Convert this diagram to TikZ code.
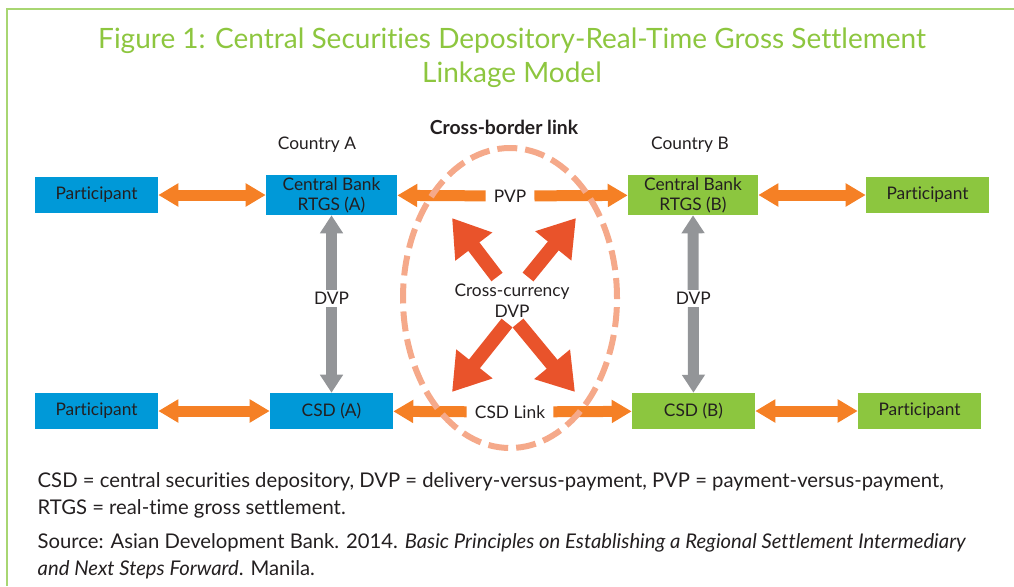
\documentclass[tikz,border=0pt]{standalone}
\usepackage{fontspec}
\setmainfont{Lato}[Ligatures=NoCommon]
\usetikzlibrary{arrows.meta}

\definecolor{adbblue}{HTML}{0099D8}
\definecolor{adbgreen}{HTML}{8CC63F}
\definecolor{titlegreen}{HTML}{8DC63F}
\definecolor{framegreen}{HTML}{A8D672}
\definecolor{linkorange}{HTML}{F58025}
\definecolor{diagred}{HTML}{E9532B}
\definecolor{dvpgray}{HTML}{939598}
\definecolor{ringpink}{HTML}{F5A98A}
\definecolor{inkblack}{HTML}{231F20}

\begin{document}
\begin{tikzpicture}[x=0.75pt,y=-0.75pt,
    box/.style ={draw=none, inner sep=0pt, text=inkblack, align=center,
      font=\fontsize{13}{15}\selectfont},
    bluebox/.style ={box, fill=adbblue},
    greenbox/.style ={box, fill=adbgreen},
    label/.style ={text=inkblack, font=\fontsize{13}{15}\selectfont, align=center},
    hlink/.style ={draw=linkorange, line width=8.25pt,
      {Triangle[length=15pt,width=16.5pt]}-{Triangle[length=15pt,width=16.5pt]}},
    halflink/.style ={draw=linkorange, line width=8.25pt,
      -{Triangle[length=15pt,width=16.5pt]}},
    vlink/.style ={draw=dvpgray, line width=8.25pt,
      {Triangle[length=13.5pt,width=16.5pt]}-{Triangle[length=13.5pt,width=16.5pt]}},
    diag/.style ={draw=diagred, line width=10.5pt,
      -{Triangle[length=27pt,width=33pt]}},
    note/.style ={anchor=north west, text=inkblack, align=left,
      font=\fontsize{15.2}{20}\selectfont}]
   \useasboundingbox (0,0) rectangle (1014,586);
   % frame
   \draw[framegreen, line width=1.5pt] (1014,9) -- (7,9) -- (7,586);
   % title
   \node[text=titlegreen, align=center, font=\fontsize{21}{25.5}\selectfont]
     (title) at (512,58) {Figure 1: Central Securities Depository-Real-Time Gross Settlement\\Linkage Model};
   \node[label, font=\bfseries\fontsize{14.5}{16}\selectfont] (cbl) at (504,127) {Cross-border link};
   \node[label] (ctya) at (317,145) {Country A};
   \node[label] (ctyb) at (690,145) {Country B};
   % boxes
   \node[bluebox, minimum width=92.25pt, minimum height=27pt] (pa) at (96.5,195) {Participant};
   \node[bluebox, minimum width=98.25pt, minimum height=30pt] (rtgsa) at (331.5,195) {Central Bank\\RTGS (A)};
   \node[greenbox, minimum width=97.5pt, minimum height=30pt] (rtgsb) at (693,195) {Central Bank\\RTGS (B)};
   \node[greenbox, minimum width=92.25pt, minimum height=27pt] (pb) at (927.5,195) {Participant};
   \node[bluebox, minimum width=92.25pt, minimum height=27pt] (qa) at (96.5,411) {Participant};
   \node[bluebox, minimum width=92.25pt, minimum height=27pt] (csda) at (331.5,411) {CSD (A)};
   \node[greenbox, minimum width=92.25pt, minimum height=27pt] (csdb) at (693.5,411) {CSD (B)};
   \node[greenbox, minimum width=92.25pt, minimum height=27pt] (qb) at (919.5,411) {Participant};
   % horizontal links
   \draw[hlink] (pa) -- (rtgsa);
   \draw[hlink] (rtgsb) -- (pb);
   \draw[hlink] (qa) -- (csda);
   \draw[hlink] (csdb) -- (qb);
   \node[label, inner xsep=6pt] (pvp) at (510,196) {PVP};
   \draw[halflink] (pvp) -- (rtgsa);
   \draw[halflink] (pvp) -- (rtgsb);
   \node[label, inner xsep=6pt] (csdlink) at (510,412) {CSD Link};
   \draw[halflink] (csdlink) -- (csda);
   \draw[halflink] (csdlink) -- (csdb);
   % DVP links
   \draw[vlink] (rtgsa) -- (csda) node[pos=0.47, label, fill=white, inner sep=1.5pt] (dvpa) {DVP};
   \draw[vlink] (rtgsb) -- (csdb) node[pos=0.47, label, fill=white, inner sep=1.5pt] (dvpb) {DVP};
   % cross-currency DVP
   \node[label, font=\fontsize{13}{15.5}\selectfont] (ccy) at (512,301) {Cross-currency\\DVP};
   \coordinate (ul0) at (497,277);
   \coordinate (ur0) at (528,277);
   \coordinate (dl0) at (507,323);
   \coordinate (dr0) at (518,323);
   \coordinate (ul) at (452,218);
   \coordinate (ur) at (576,218);
   \coordinate (dl) at (452,392);
   \coordinate (dr) at (575,392);
   \draw[diag] (ul0) -- (ul);
   \draw[diag] (ur0) -- (ur);
   \draw[diag] (dl0) -- (dl);
   \draw[diag] (dr0) -- (dr);
   % cross-border ring
   \draw[ringpink, line width=4.5pt, dash pattern=on 15pt off 6pt]
     (510,298) ellipse [x radius=80.25pt, y radius=112.5pt];
   % notes
   \node[note] (abbr) at (33,468) {CSD = central securities depository, DVP = delivery-versus-payment, PVP = payment-versus-payment,\\RTGS = real-time gross settlement.};
   \node[note] (src) at (33,529) {Source: Asian Development Bank. 2014. \textit{Basic Principles on Establishing a Regional Settlement Intermediary}\\\textit{and Next Steps Forward}. Manila.};
 \end{tikzpicture}
\end{document}
